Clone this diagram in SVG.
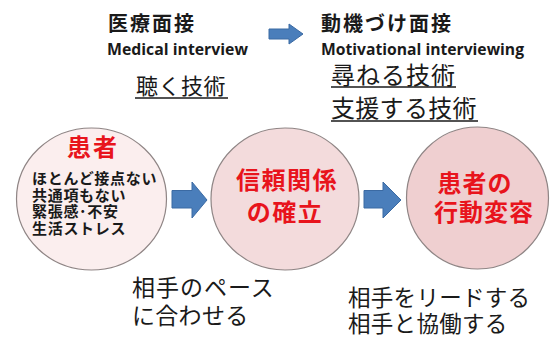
<svg xmlns="http://www.w3.org/2000/svg" width="552" height="338" viewBox="0 0 552 338">
<style>
.jp{font-family:"Noto Sans CJK JP","Noto Sans",sans-serif;fill:#1a1a1a}
.b{font-weight:700}
.en{font-family:"Open Sans","Liberation Sans",sans-serif;font-weight:700;fill:#1a1a1a;font-size:15.5px}
.red{font-family:"Noto Sans CJK JP",sans-serif;font-weight:700;fill:#e8141c}
.node{stroke:#8f8585;stroke-width:1.2}
.arrow{fill:#4a7ebb;stroke:#3b6aa3;stroke-width:1}
.ul{stroke:#1a1a1a;stroke-width:1.5}
</style>
<rect width="552" height="338" fill="#ffffff"/>
<g id="header-left">
<text class="jp b" x="108" y="31" font-size="20" letter-spacing="2">医療面接</text>
<text class="en" x="107" y="54.5" textLength="141" lengthAdjust="spacingAndGlyphs">Medical interview</text>
<text class="jp" x="136" y="94" font-size="22" letter-spacing="0.5">聴く技術</text>
<line class="ul" x1="135" y1="98" x2="228" y2="98"/>
</g>
<g id="header-right">
<text class="jp b" x="321" y="31" font-size="20" letter-spacing="2">動機づけ面接</text>
<text class="en" x="321" y="54.5" textLength="203" lengthAdjust="spacingAndGlyphs">Motivational interviewing</text>
<text class="jp" x="331" y="84" font-size="24" letter-spacing="1">尋ねる技術</text>
<line class="ul" x1="331" y1="87" x2="456" y2="87"/>
<text class="jp" x="331" y="117" font-size="24" letter-spacing="0.3">支援する技術</text>
<line class="ul" x1="331" y1="121" x2="478" y2="121"/>
</g>
<g id="connectors">
<path class="arrow" d="M269,29 H289 V24 L303,34 L289,44 V39 H269 Z"/>
<path class="arrow" d="M172,190.5 H192 V182 L207,200 L192,218 V208 H172 Z"/>
<path class="arrow" d="M364,190.5 H383 V182 L401,200 L383,218 V208 H364 Z"/>
</g>
<g id="patient">
<ellipse class="node" cx="91.5" cy="199" rx="75" ry="71" fill="#fbeeee"/>
<text class="red" x="93" y="156" font-size="24" letter-spacing="2" text-anchor="middle">患者</text>
<text class="jp b" x="32" y="184" font-size="15" letter-spacing="0.7">ほとんど接点ない</text>
<text class="jp b" x="32" y="201" font-size="15" letter-spacing="0.7">共通項もない</text>
<text class="jp b" x="32" y="217" font-size="15" letter-spacing="0.7">緊張感･不安</text>
<text class="jp b" x="32" y="234" font-size="15" letter-spacing="0.7">生活ストレス</text>
</g>
<g id="trust">
<ellipse class="node" cx="285" cy="199" rx="74" ry="71" fill="#f3dbdc"/>
<text class="red" x="287" y="189" font-size="24" letter-spacing="1.5" text-anchor="middle">信頼関係</text>
<text class="red" x="285" y="221" font-size="24" letter-spacing="1.5" text-anchor="middle">の確立</text>
</g>
<g id="change">
<ellipse class="node" cx="477.5" cy="198" rx="71" ry="71" fill="#efcfd0"/>
<text class="red" x="475" y="192" font-size="24" letter-spacing="1" text-anchor="middle">患者の</text>
<text class="red" x="484" y="221" font-size="24" letter-spacing="1" text-anchor="middle">行動変容</text>
</g>
<g id="bottom-left">
<text class="jp" x="132" y="296" font-size="23" letter-spacing="1">相手のペース</text>
<text class="jp" x="132" y="324" font-size="23" letter-spacing="0.3">に合わせる</text>
</g>
<g id="bottom-right">
<text class="jp" x="348" y="306" font-size="22.5" letter-spacing="0.3">相手をリードする</text>
<text class="jp" x="348" y="332" font-size="22.5" letter-spacing="0.3">相手と協働する</text>
</g>
</svg>
